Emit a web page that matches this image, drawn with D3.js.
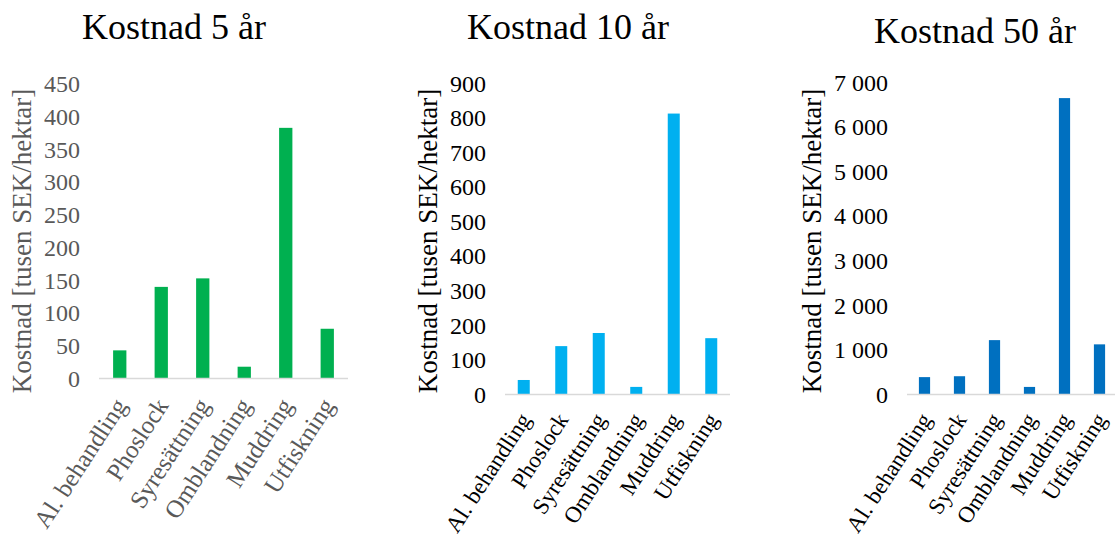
<!DOCTYPE html>
<html>
<head>
<meta charset="utf-8">
<script src="https://cdn.jsdelivr.net/npm/d3@7"></script>
<style>
  html, body { margin: 0; padding: 0; background: #fff; }
  svg { display: block; font-family: "Liberation Serif", "Times New Roman", serif; }
</style>
</head>
<body>
<svg id="chart" width="1115" height="538"></svg>
<script>
// Åtgärder (gemensamma för alla tre diagrammen)
const categories = ["Al. behandling", "Phoslock", "Syresättning", "Omblandning", "Muddring", "Utfiskning"];

// Kostnad i tusen SEK per hektar
const cost5yr  = [43, 140, 153, 18, 383, 76];
const cost10yr = [42, 140, 178, 22, 813, 163];
const cost50yr = [390, 410, 1220, 170, 6650, 1125];

// Axelteckning
const ticks5yr  = [0, 50, 100, 150, 200, 250, 300, 350, 400, 450];
const ticks10yr = [0, 100, 200, 300, 400, 500, 600, 700, 800, 900];
const ticks50yr = [0, 1000, 2000, 3000, 4000, 5000, 6000, 7000];

const titles = ["Kostnad 5 år", "Kostnad 10 år", "Kostnad 50 år"];
const yTitle = "Kostnad [tusen SEK/hektar]";

const sv = d3.formatLocale({ decimal: ",", thousands: "\u00a0", grouping: [3], currency: ["", " kr"] });
const fmt = sv.format(",d");

// Panel layout (pixels)
const panels = [
  { title: titles[0], values: cost5yr,  ticks: ticks5yr,  color: "#00B050", text: "#595959",
    x0: 99,  x1: 348,  yTop: 84,   yBot: 378.5, titleX: 174, titleY: 39,
    yTitleX: 22,  yTitleY: 241, tickSize: 24, catSize: 25, catDx: 8, catDy: 27 },
  { title: titles[1], values: cost10yr, ticks: ticks10yr, color: "#00B0F0", text: "#000000",
    x0: 505, x1: 730,  yTop: 83.5, yBot: 394.5, titleX: 568, titleY: 39,
    yTitleX: 428, yTitleY: 241, tickSize: 24, catSize: 23, catDx: 8, catDy: 25 },
  { title: titles[2], values: cost50yr, ticks: ticks50yr, color: "#0070C0", text: "#000000",
    x0: 907, x1: 1117, yTop: 82.5, yBot: 394.5, titleX: 975, titleY: 43,
    yTitleX: 812, yTitleY: 241, tickSize: 24, catSize: 23, catDx: 8, catDy: 25 }
];

const svg = d3.select("#chart");

panels.forEach(p => {
  const g = svg.append("g");
  const maxTick = p.ticks[p.ticks.length - 1];

  const x = d3.scaleBand().domain(categories).range([p.x0, p.x1])
    .paddingInner(0.68).paddingOuter(0.34);
  const y = d3.scaleLinear().domain([0, maxTick]).range([p.yBot, p.yTop]);

  // Title
  g.append("text")
    .attr("x", p.titleX).attr("y", p.titleY)
    .attr("text-anchor", "middle")
    .attr("font-size", 36).attr("fill", "#000")
    .text(p.title);

  // Bars
  g.selectAll("rect.bar").data(p.values).join("rect")
    .attr("class", "bar")
    .attr("x", (d, i) => x(categories[i]))
    .attr("width", x.bandwidth())
    .attr("y", d => y(d))
    .attr("height", d => y(0) - y(d))
    .attr("fill", p.color);

  // Y axis (labels only, no line or ticks)
  const yAxis = d3.axisLeft(y).tickValues(p.ticks).tickFormat(fmt).tickSize(0).tickPadding(19);
  const ya = g.append("g").attr("transform", `translate(${p.x0},0)`).call(yAxis);
  ya.select(".domain").remove();
  ya.selectAll("text")
    .attr("font-size", p.tickSize)
    .attr("font-family", "Liberation Serif, Times New Roman, serif")
    .attr("fill", p.text);

  // X axis baseline
  const xAxis = d3.axisBottom(x).tickSize(0).tickFormat("");
  const xa = g.append("g").attr("transform", `translate(0,${p.yBot})`).call(xAxis);
  xa.select(".domain").attr("stroke", "#D9D9D9").attr("stroke-width", 1.5)
    .attr("d", `M${p.x0},0H${p.x1}`);
  xa.selectAll(".tick text").remove();

  // Rotated category labels
  g.selectAll("text.cat").data(categories).join("text")
    .attr("class", "cat")
    .attr("text-anchor", "end")
    .attr("font-size", p.catSize)
    .attr("fill", p.text)
    .attr("transform", d => `translate(${x(d) + x.bandwidth() / 2 + p.catDx},${p.yBot + p.catDy}) rotate(-57)`)
    .text(d => d);

  // Y axis title
  g.append("text")
    .attr("transform", `translate(${p.yTitleX},${p.yTitleY}) rotate(-90)`)
    .attr("text-anchor", "middle")
    .attr("dominant-baseline", "central")
    .attr("font-size", 27)
    .attr("fill", p.text)
    .text(yTitle);
});
</script>
</body>
</html>
